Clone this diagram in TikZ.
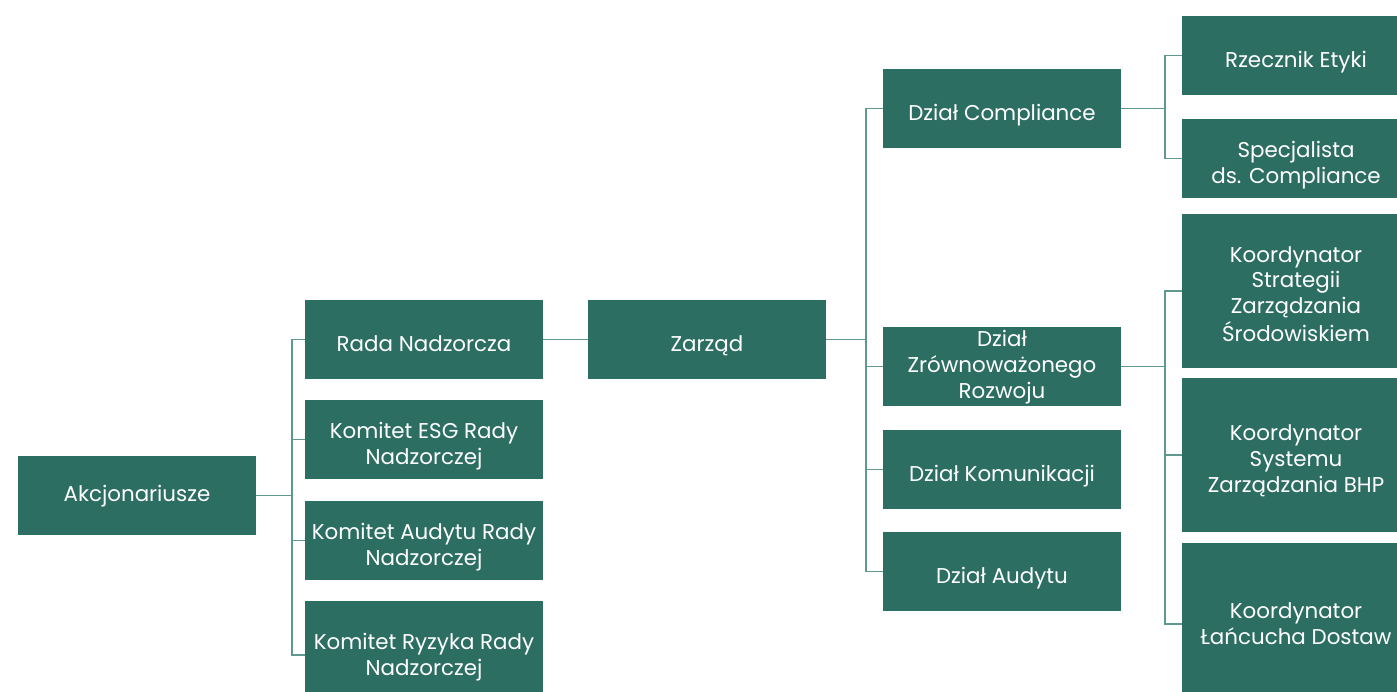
\documentclass[tikz,border=0pt]{standalone}
\usepackage{fontspec}
\setmainfont{Poppins}
\usetikzlibrary{calc}
\definecolor{boxgreen}{HTML}{2D6E63}
\definecolor{linegreen}{HTML}{5E988E}
% text block, set a little below the box centre, takes no room of its own
\newcommand{\lbl}[2][11.75pt]{\raisebox{-#1}[0pt][0pt]{\begin{tabular}[c]{@{}c@{}}#2\end{tabular}}}
\tikzset{
	unit/.style={fill=boxgreen, text=white, inner sep=0pt, minimum width=238pt, minimum height=79pt, font=\fontsize{21.4}{25.8}\selectfont},
	link/.style={line width=1.4pt, color=linegreen}
}
\begin{document}
\begin{tikzpicture}[x=1pt, y=-1pt]
			%%%%% START %%%%%
			\clip (0, 0) rectangle (1397, 691);
			
			\node[unit] (akc) at (137, 495.5) {\lbl[5.75pt]{Akcjonariusze}};
			
			\node[unit] (rada) at (424, 339.5) {\lbl{Rada Nadzorcza}};
			\node[unit] (esg) at (424, 439.5) {\lbl{Komitet ESG Rady\\Nadzorczej}};
			\node[unit] (audytu) at (424, 540.5) {\lbl{Komitet Audytu Rady\\Nadzorczej}};
			\node[unit, minimum height=108pt] (ryzyka) at (424, 655) {\lbl[7.75pt]{Komitet Ryzyka Rady\\Nadzorczej}};
			
			\node[unit] (zarzad) at (707, 339.5) {\lbl{Zarząd}};
			
			\node[unit] (compl) at (1002, 108.5) {\lbl{Dział Compliance}};
			\node[unit] (zrow) at (1002, 366.5) {\lbl[6.25pt]{Dział\\Zrównoważonego\\Rozwoju}};
			\node[unit] (komun) at (1002, 469.5) {\lbl{Dział Komunikacji}};
			\node[unit] (audyt) at (1002, 571.5) {\lbl{Dział Audytu}};
			
			\node[unit, minimum width=228pt] (rzecz) at (1296, 55.5) {\lbl{Rzecznik Etyki}};
			\node[unit, minimum width=228pt] (spec) at (1296, 158.5) {\lbl{Specjalista\\ds. Compliance}};
			\node[unit, minimum width=228pt, minimum height=154pt] (strat) at (1296, 291) {\lbl[10.75pt]{Koordynator\\Strategii\\Zarządzania\\Środowiskiem}};
			\node[unit, minimum width=228pt, minimum height=154pt] (system) at (1296, 455) {\lbl{Koordynator\\Systemu\\Zarządzania BHP}};
			\node[unit, minimum width=228pt, minimum height=162pt] (lanc) at (1296, 624) {\lbl[7.75pt]{Koordynator\\Łańcucha Dostaw}};
			
			% buses
			\coordinate (busA) at (292, 0);
			\coordinate (busB) at (866, 0);
			\coordinate (busC) at (1165, 0);
			
			\draw[link] (akc.east) -- (akc.east -| busA);
			\foreach \n in {rada, esg, audytu, ryzyka}
				\draw[link] (akc.east -| busA) |- (\n.west);
			
			\draw[link] (rada.east) -- (zarzad.west);
			
			\draw[link] (zarzad.east) -- (zarzad.east -| busB);
			\foreach \n in {compl, zrow, komun, audyt}
				\draw[link] (zarzad.east -| busB) |- (\n.west);
			
			\draw[link] (compl.east) -- (compl.east -| busC);
			\foreach \n in {rzecz, spec}
				\draw[link] (compl.east -| busC) |- (\n.west);
			
			\draw[link] (zrow.east) -- (zrow.east -| busC);
			\foreach \n in {strat, system, lanc}
				\draw[link] (zrow.east -| busC) |- (\n.west);
			
			%%%%% END %%%%%
\end{tikzpicture}
\end{document}
